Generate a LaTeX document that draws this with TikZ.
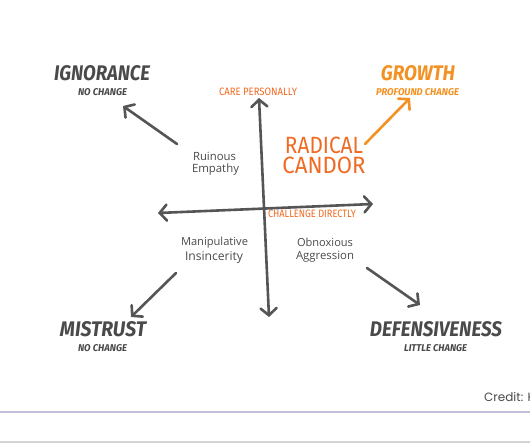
\documentclass[tikz,border=0pt]{standalone}
\usepackage{graphicx}
\usepackage{fontspec}
\setmainfont{Fira Sans}
\newfontfamily\credfont{Poppins}
\newfontfamily\handfont{Open Sans}
\usetikzlibrary{arrows.meta}
\definecolor{ink}{HTML}{4A4A4A}
\definecolor{axisgray}{HTML}{555555}
\definecolor{candor}{HTML}{F06A22}
\definecolor{growth}{HTML}{F39222}
\definecolor{rulepurple}{HTML}{C3BFD8}
\definecolor{rulegray}{HTML}{D4D4D4}
\newcommand{\fitwh}[3]{\resizebox{#1pt}{#2pt}{#3}}
\newcommand{\fitw}[2]{\resizebox{#1pt}{!}{#2}}
\tikzset{
  lbl/.style={inner sep=0pt, anchor=center},
  title/.style={lbl, text=ink, font=\bfseries\itshape},
  sub/.style={lbl, text=ink, font=\bfseries\itshape},
  hand/.style={lbl, text=ink, font=\handfont, align=center},
  chev/.style={line width=2.6pt, line cap=round, axisgray,
    -{Straight Barb[length=7pt,width=16pt,line cap=round]}},
  axis/.style={line width=2.6pt, line cap=round, axisgray,
    {Straight Barb[length=7pt,width=16pt,line cap=round]}-{Straight Barb[length=7pt,width=16pt,line cap=round]}}
}
\begin{document}
\begin{tikzpicture}[x=1pt,y=-1pt]
\useasboundingbox (0,0) rectangle (530,443);
\clip (0,0) rectangle (530,443);
\fill[white] (0,0) rectangle (530,443);

% corner titles
\node[title] (ign) at (102,73.5) {\fitwh{96}{15}{IGNORANCE}};
\node[sub] (ignsub) at (102.5,92) {\fitwh{49}{7}{NO CHANGE}};
\node[title, text=growth] (gro) at (418,73.5) {\fitwh{74}{15}{GROWTH}};
\node[sub, text=growth] (grosub) at (417.5,92) {\fitwh{83}{7}{PROFOUND CHANGE}};
\node[title] (mis) at (103,329.5) {\fitwh{86}{15}{MISTRUST}};
\node[sub] (missub) at (102.5,348) {\fitwh{49}{7}{NO CHANGE}};
\node[title] (def) at (436,329.5) {\fitwh{132}{15}{DEFENSIVENESS}};
\node[sub] (defsub) at (435.5,348) {\fitwh{63}{7}{LITTLE CHANGE}};

% axis labels
\node[lbl, text=candor] (care) at (258,92) {\fitwh{78}{7.5}{CARE PERSONALLY}};
\node[lbl, text=candor] (chal) at (312,214) {\fitwh{88}{7.5}{CHALLENGE DIRECTLY}};

% radical candor
\node[lbl, text=candor, align=center, font=\fontsize{10}{20}\selectfont] (rc) at (324,155.5)
  {\fitwh{78}{16.5}{RADICAL}\\\fitwh{83}{16.5}{CANDOR}};

% quadrant labels
\node[hand] (ruin1) at (214.5,156) {\fitw{43}{Ruinous}};
\node[hand] (ruin2) at (215.5,170) {\fitw{47}{Empathy}};
\node[hand] (man1) at (214.5,243) {\fitw{67}{Manipulative}};
\node[hand] (man2) at (214,258) {\fitw{58}{Insincerity}};
\node[hand] (obn1) at (325,242) {\fitw{56}{Obnoxious}};
\node[hand] (obn2) at (325,257) {\fitw{58}{Aggression}};

% axes
\coordinate (vtop) at (259,98);
\coordinate (vbot) at (269,317);
\coordinate (hleft) at (158,213);
\coordinate (hright) at (373,204);
\draw[axis] (vbot) -- (vtop);
\draw[axis] (hleft) -- (hright);

% diagonal arrows
\coordinate (a1s) at (177,144);
\coordinate (a1e) at (123,106);
\draw[chev] (a1s) -- (a1e);
\coordinate (a2s) at (365,144);
\coordinate (a2e) at (410,98);
\draw[chev, growth] (a2s) -- (a2e);
\coordinate (a3s) at (176,273);
\coordinate (a3e) at (131,317);
\draw[chev] (a3s) -- (a3e);
\coordinate (a4s) at (367,268);
\coordinate (a4e) at (420,305);
\draw[chev] (a4s) -- (a4e);

% credit and rules
\node[inner sep=0pt, anchor=west, text=ink, font=\credfont\fontsize{12}{14}\selectfont] (cred) at (484,397) {Credit: K};
\coordinate (r1l) at (0,412);
\coordinate (r1r) at (530,412);
\draw[rulepurple, line width=1.6pt] (r1l) -- (r1r);
\coordinate (r2l) at (0,442);
\coordinate (r2r) at (530,442);
\draw[rulegray, line width=2.2pt] (r2l) -- (r2r);
\end{tikzpicture}
\end{document}
